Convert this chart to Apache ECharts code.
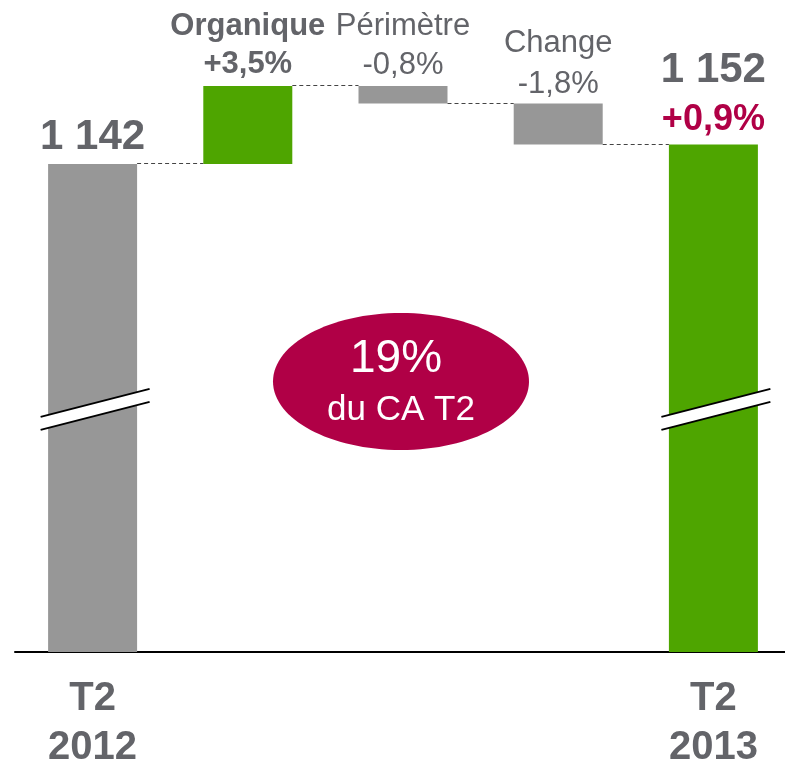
<!DOCTYPE html>
<html>
<head>
<meta charset="utf-8">
<script src="https://cdn.jsdelivr.net/npm/echarts@6/dist/echarts.min.js"></script>
<style>
  html, body { margin: 0; padding: 0; background: #fff; }
  #chart { width: 785px; height: 763px; }
</style>
</head>
<body>
<div id="chart"></div>
<script>
var categories = ['T2 2012', 'Organique', 'Périmètre', 'Change', 'T2 2013'];
var totals = [1142, null, null, null, 1152];
var deltas = [null, 40, -9, -21, null];
var pctLabels = ['', '+3,5%', '-0,8%', '-1,8%', '+0,9%'];
var breakAt = 1016; // where the axis break is drawn on the total bars

var GRAY = '#979797';
var GREEN = '#4ea500';
var TEXT = '#636469';
var RED = '#b00046';
var FONT = 'Liberation Sans, Arial, sans-serif';
var barW = 89;

function fmt(v) {
  return String(v).replace(/\B(?=(\d{3})+(?!\d))/g, ' ');
}

// running level for the waterfall
var baseData = [], stepData = [], totalData = [], links = [];
var level = 0;
for (var i = 0; i < categories.length; i++) {
  if (totals[i] != null) {
    level = totals[i];
    baseData.push('-');
    stepData.push('-');
    totalData.push({ value: totals[i], itemStyle: { color: i === 0 ? GRAY : GREEN } });
  } else {
    var start = level;
    level = level + deltas[i];
    totalData.push('-');
    baseData.push(Math.min(start, level));
    stepData.push({ value: Math.abs(deltas[i]), itemStyle: { color: deltas[i] > 0 ? GREEN : GRAY } });
  }
  if (i < categories.length - 1) links.push([i, level]);
}

// labels
totalData[0].label = {
  show: true, position: 'top', distance: 5,
  formatter: fmt(totals[0]),
  fontFamily: FONT, fontSize: 42, fontWeight: 'bold', color: TEXT, lineHeight: 44
};
totalData[4].label = {
  show: true, position: 'top', distance: 4,
  formatter: '{t|' + fmt(totals[4]) + '}\n{g|' + pctLabels[4] + '}',
  rich: {
    t: { fontFamily: FONT, fontSize: 42, fontWeight: 'bold', color: TEXT, lineHeight: 60 },
    g: { fontFamily: FONT, fontSize: 36, fontWeight: 'bold', color: RED, lineHeight: 40 }
  }
};
var stepLabel = [null,
  { bold: true, lh: 37.5, dist: 3 },
  { bold: false, lh: 39, dist: 1 },
  { bold: false, lh: 41, dist: -1 }
];
for (var j = 1; j <= 3; j++) {
  var s = stepLabel[j];
  var st = { fontFamily: FONT, fontSize: 31, fontWeight: s.bold ? 'bold' : 'normal', color: TEXT, lineHeight: s.lh };
  stepData[j].label = {
    show: true, position: 'top', distance: s.dist,
    formatter: '{a|' + categories[j] + '}\n{a|' + pctLabels[j] + '}',
    rich: { a: st }
  };
}

var chart = echarts.init(document.getElementById('chart'));
var option = {
  animation: false,
  grid: { left: 15, top: 86, width: 776, bottom: 111, outerBoundsMode: 'none' },
  xAxis: {
    type: 'category',
    data: categories,
    axisLine: { lineStyle: { color: '#000', width: 2 } },
    axisTick: { show: false },
    axisLabel: {
      interval: 0, margin: 23,
      fontFamily: FONT, fontSize: 40, fontWeight: 'bold', color: TEXT, lineHeight: 48.5,
      formatter: function (v, idx) {
        return (idx === 0 || idx === categories.length - 1) ? v.replace(' ', '\n') : '';
      }
    }
  },
  yAxis: { type: 'value', min: 892, max: 1182, show: false, splitLine: { show: false } },
  series: [
    {
      name: 'base', type: 'bar', stack: 'w', barWidth: barW,
      itemStyle: { color: 'transparent' },
      data: baseData
    },
    {
      name: 'step', type: 'bar', stack: 'w', barWidth: barW,
      data: stepData
    },
    {
      name: 'total', type: 'bar', barWidth: barW, barGap: '-100%',
      data: totalData
    },
    {
      name: 'links', type: 'custom', z: 5,
      renderItem: function (params, api) {
        var p = api.coord([api.value(0), api.value(1)]);
        var band = api.size([1, 0])[0];
        var y = Math.round(p[1]) - 0.5;
        return {
          type: 'line',
          shape: { x1: p[0] + barW / 2, y1: y, x2: p[0] + band - barW / 2, y2: y },
          style: { stroke: '#444', lineWidth: 1, lineDash: [4, 3] }
        };
      },
      data: links
    },
    {
      name: 'breaks', type: 'custom', z: 6,
      renderItem: function (params, api) {
        var p = api.coord([api.value(0), api.value(1)]);
        var x1 = p[0] - 52, x2 = p[0] + 57;
        var k = -28 / 109;
        var yTop1 = p[1] - 6.5 + k * (x1 - p[0]);
        var yTop2 = p[1] - 6.5 + k * (x2 - p[0]);
        var g = 13;
        return {
          type: 'group',
          children: [
            { type: 'polygon', shape: { points: [[x1, yTop1], [x2, yTop2], [x2, yTop2 + g], [x1, yTop1 + g]] }, style: { fill: '#fff' } },
            { type: 'line', shape: { x1: x1, y1: yTop1, x2: x2, y2: yTop2 }, style: { stroke: '#000', lineWidth: 2 } },
            { type: 'line', shape: { x1: x1, y1: yTop1 + g, x2: x2, y2: yTop2 + g }, style: { stroke: '#000', lineWidth: 2 } }
          ]
        };
      },
      data: [[0, breakAt], [4, breakAt]]
    }
  ],
  graphic: [
    { type: 'ellipse', shape: { cx: 401, cy: 381.5, rx: 128, ry: 68.5 }, style: { fill: RED } },
    { type: 'text', x: 396, y: 359, style: { text: '19%', font: '46px ' + FONT, fill: '#fff', align: 'center', verticalAlign: 'middle' } },
    { type: 'text', x: 401, y: 410, style: { text: 'du CA T2', font: '35px ' + FONT, fill: '#fff', align: 'center', verticalAlign: 'middle' } }
  ]
};
chart.setOption(option);
</script>
</body>
</html>
